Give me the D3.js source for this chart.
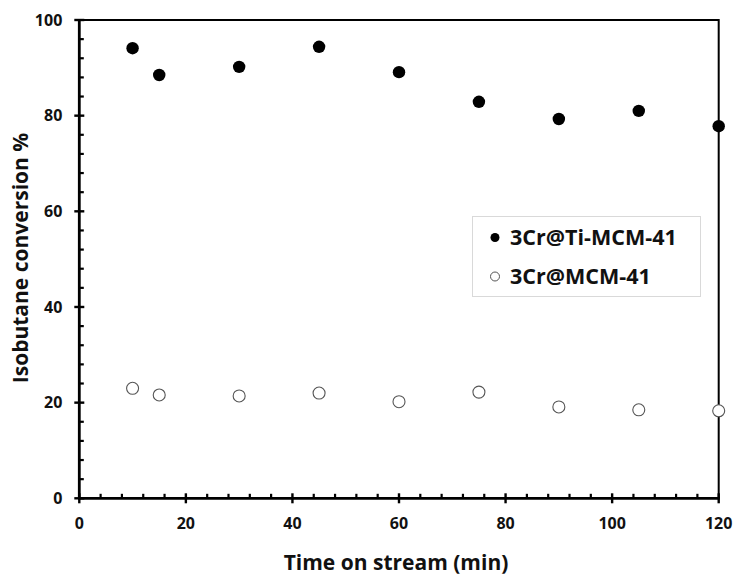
<!DOCTYPE html>
<html>
<head>
<meta charset="utf-8">
<script src="https://cdn.jsdelivr.net/npm/d3@7"></script>
<style>
  html, body { margin: 0; padding: 0; background: #fff; }
  svg { display: block; }
  text { font-family: "Open Sans", Lato, sans-serif; font-weight: bold; fill: #111; }
</style>
</head>
<body>
<svg id="chart" width="734" height="577"></svg>
<script>
// Time on stream (min)
const times = [10, 15, 30, 45, 60, 75, 90, 105, 120];
// Isobutane conversion (%) per catalyst
const tiMcm41 = [94.1, 88.5, 90.2, 94.4, 89.1, 82.9, 79.3, 81.0, 77.8];
const mcm41 = [23.0, 21.6, 21.4, 22.0, 20.2, 22.2, 19.1, 18.5, 18.3];
const seriesNames = ["3Cr@Ti-MCM-41", "3Cr@MCM-41"];
const xTicks = [0, 20, 40, 60, 80, 100, 120];
const yTicks = [0, 20, 40, 60, 80, 100];

const svg = d3.select("#chart");
const plotL = 79.3, plotR = 718.7, plotT = 20, plotB = 498.3;

const x = d3.scaleLinear().domain([0, 120]).range([plotL, plotR]);
const y = d3.scaleLinear().domain([0, 100]).range([plotB, plotT]);

// frame: top and right edges
svg.append("path")
  .attr("d", `M${plotL},${plotT}H${plotR}V${plotB}`)
  .attr("fill", "none").attr("stroke", "#000").attr("stroke-width", 2);

// minor ticks every 4 units, inside the plot
const minorX = d3.range(0, 121, 4).filter(v => v % 20 !== 0);
const minorY = d3.range(0, 101, 4).filter(v => v % 20 !== 0);

const xAxis = svg.append("g").attr("transform", `translate(0,${plotB})`);
xAxis.selectAll("line.minor").data(minorX).join("line").attr("class", "minor")
  .attr("x1", d => x(d)).attr("x2", d => x(d)).attr("y1", 0).attr("y2", -4.5)
  .attr("stroke", "#000").attr("stroke-width", 2.2);
xAxis.selectAll("line.major").data(xTicks).join("line").attr("class", "major")
  .attr("x1", d => x(d)).attr("x2", d => x(d)).attr("y1", -5).attr("y2", 5)
  .attr("stroke", "#000").attr("stroke-width", 2.4);
xAxis.append("line").attr("x1", plotL - 1).attr("x2", plotR + 1)
  .attr("stroke", "#000").attr("stroke-width", 2.8);
xAxis.selectAll("text").data(xTicks).join("text")
  .attr("x", d => x(d)).attr("y", 31)
  .attr("text-anchor", "middle").attr("font-size", 16)
  .text(d => d);

const yAxis = svg.append("g").attr("transform", `translate(${plotL},0)`);
yAxis.selectAll("line.minor").data(minorY).join("line").attr("class", "minor")
  .attr("y1", d => y(d)).attr("y2", d => y(d)).attr("x1", 0).attr("x2", 4.5)
  .attr("stroke", "#000").attr("stroke-width", 2.2);
yAxis.selectAll("line.major").data(yTicks).join("line").attr("class", "major")
  .attr("y1", d => y(d)).attr("y2", d => y(d)).attr("x1", -5).attr("x2", 5)
  .attr("stroke", "#000").attr("stroke-width", 2.4);
yAxis.append("line").attr("y1", plotT - 1).attr("y2", plotB + 1)
  .attr("stroke", "#000").attr("stroke-width", 2.8);
yAxis.selectAll("text").data(yTicks).join("text")
  .attr("x", -17).attr("y", d => y(d)).attr("dy", "0.36em")
  .attr("text-anchor", "end").attr("font-size", 16)
  .text(d => d);

// axis titles
svg.append("text")
  .attr("x", 396).attr("y", 570)
  .attr("text-anchor", "middle").attr("font-size", 21)
  .text("Time on stream (min)");
svg.append("text")
  .attr("transform", `translate(28,258) rotate(-90)`)
  .attr("text-anchor", "middle").attr("font-size", 21)
  .text("Isobutane conversion %");

// data points
svg.append("g").selectAll("circle").data(times.map((t, i) => [t, mcm41[i]])).join("circle")
  .attr("cx", d => x(d[0])).attr("cy", d => y(d[1])).attr("r", 6)
  .attr("fill", "#fff").attr("stroke", "#555").attr("stroke-width", 1.1);
svg.append("g").selectAll("circle").data(times.map((t, i) => [t, tiMcm41[i]])).join("circle")
  .attr("cx", d => x(d[0])).attr("cy", d => y(d[1])).attr("r", 6.2)
  .attr("fill", "#000");

// legend
const lg = svg.append("g");
lg.append("rect").attr("x", 472.5).attr("y", 216.5).attr("width", 228).attr("height", 80)
  .attr("fill", "#fff").attr("stroke", "#d9d9d9").attr("stroke-width", 1);
const legendRows = [
  { name: seriesNames[0], fill: "#000", stroke: "none", cy: 237.5 },
  { name: seriesNames[1], fill: "#fff", stroke: "#555", cy: 276.5 }
];
legendRows.forEach(r => {
  lg.append("circle").attr("cx", 495).attr("cy", r.cy).attr("r", 4.5)
    .attr("fill", r.fill).attr("stroke", r.stroke).attr("stroke-width", 1);
  lg.append("text").attr("x", 510).attr("y", r.cy).attr("dy", "0.36em")
    .attr("font-size", 21.5).text(r.name);
});
</script>
</body>
</html>
